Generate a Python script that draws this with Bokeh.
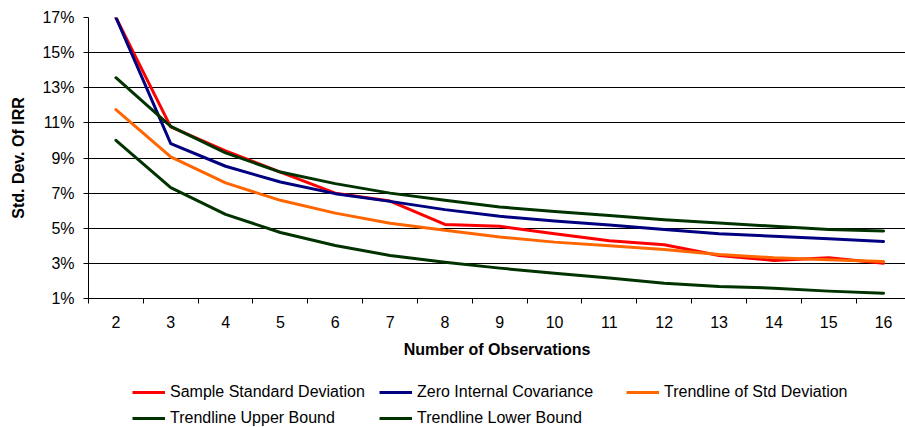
from bokeh.plotting import figure
from bokeh.layouts import column
from bokeh.models import Range1d, FixedTicker, Legend, LegendItem, ColumnDataSource
from bokeh.embed import file_html
from bokeh.resources import INLINE

# Number of observations (category axis)
observations = [2, 3, 4, 5, 6, 7, 8, 9, 10, 11, 12, 13, 14, 15, 16]

# Standard deviation of IRR, in percent
sample_std = [17.0, 10.77, 9.40, 8.20, 7.00, 6.55, 5.22, 5.11, 4.69, 4.29, 4.06, 3.45, 3.17, 3.32, 3.01]
zero_covariance = [17.0, 9.82, 8.53, 7.63, 6.97, 6.53, 6.06, 5.68, 5.41, 5.18, 4.93, 4.69, 4.54, 4.40, 4.25]
trend_std = [11.76, 9.06, 7.58, 6.59, 5.86, 5.29, 4.88, 4.50, 4.21, 4.00, 3.79, 3.51, 3.32, 3.21, 3.11]
trend_upper = [13.57, 10.80, 9.29, 8.20, 7.54, 7.00, 6.59, 6.21, 5.96, 5.73, 5.49, 5.30, 5.11, 4.93, 4.84]
trend_lower = [10.01, 7.31, 5.79, 4.76, 4.02, 3.45, 3.07, 2.73, 2.44, 2.17, 1.87, 1.68, 1.59, 1.42, 1.30]

# Y axis ticks and labels
y_ticks = [1, 3, 5, 7, 9, 11, 13, 15, 17]
y_tick_labels = ["1%", "3%", "5%", "7%", "9%", "11%", "13%", "15%", "17%"]

series_names = [
    "Sample Standard Deviation",
    "Zero Internal Covariance",
    "Trendline of Std Deviation",
    "Trendline Upper Bound",
    "Trendline Lower Bound",
]
series_values = [sample_std, zero_covariance, trend_std, trend_upper, trend_lower]
series_colors = ["#FF0000", "#000080", "#FF6600", "#003300", "#003300"]

FONT = "Liberation Sans"

p = figure(
    width=905, height=370,
    output_backend="svg", toolbar_location=None,
    x_range=Range1d(1.5, 16.40), y_range=Range1d(1, 17),
    min_border_left=88, min_border_right=0, min_border_top=17, min_border_bottom=72,
)
p.outline_line_color = None
p.background_fill_color = "white"
p.border_fill_color = "white"

# Horizontal gridlines only
p.xgrid.visible = False
p.ygrid.grid_line_color = "#000000"
p.ygrid.grid_line_width = 1

# X axis: labels at category centres, tick marks between categories
xa = p.xaxis[0]
xa.ticker = FixedTicker(ticks=observations,
                        minor_ticks=[v - 0.5 for v in observations])
xa.major_tick_in = 0
xa.major_tick_out = 0
xa.minor_tick_in = 0
xa.minor_tick_out = 5
xa.minor_tick_line_color = "#000000"
xa.axis_line_color = "#000000"
xa.major_label_text_font = FONT
xa.major_label_text_font_size = "16px"
xa.major_label_text_color = "#000000"
xa.major_label_standoff = 12
xa.axis_label = "Number of Observations"
xa.axis_label_text_font = FONT
xa.axis_label_text_font_size = "16px"
xa.axis_label_text_font_style = "bold"
xa.axis_label_text_color = "#000000"
xa.axis_label_standoff = 10

# Y axis
ya = p.yaxis[0]
ya.ticker = FixedTicker(ticks=y_ticks)
ya.major_label_overrides = {t: lab for t, lab in zip(y_ticks, y_tick_labels)}
ya.minor_tick_line_color = None
ya.major_tick_in = 0
ya.major_tick_out = 5
ya.major_tick_line_color = "#000000"
ya.axis_line_color = "#000000"
ya.major_label_text_font = FONT
ya.major_label_text_font_size = "16px"
ya.major_label_text_color = "#000000"
ya.major_label_standoff = 9
ya.axis_label = "Std. Dev. Of IRR"
ya.axis_label_text_font = FONT
ya.axis_label_text_font_size = "16px"
ya.axis_label_text_font_style = "bold"
ya.axis_label_text_color = "#000000"
ya.axis_label_standoff = 12

for vals, color in zip(series_values, series_colors):
    src = ColumnDataSource(data=dict(x=observations, y=vals))
    p.line("x", "y", source=src, line_color=color, line_width=3,
           line_join="round", line_cap="round")

# Legend strip underneath the chart (its frame is aligned with the chart's frame)
leg = figure(
    width=905, height=57,
    output_backend="svg", toolbar_location=None,
    x_range=Range1d(0, 1), y_range=Range1d(0, 1),
    min_border_left=0, min_border_right=0, min_border_top=0, min_border_bottom=0,
)
leg.outline_line_color = None
leg.axis.visible = False
leg.grid.visible = False
leg.background_fill_color = "white"
leg.border_fill_color = "white"

items = []
for name, color in zip(series_names, series_colors):
    # key-only renderer: a point placed outside the visible range
    r = leg.line(x=[-5, -5], y=[-5, -5], line_color=color, line_width=3)
    items.append(LegendItem(label=name, renderers=[r]))

legend = Legend(
    items=items,
    orientation="horizontal",
    ncols=3,
    location=(44, -2),
    glyph_width=33, glyph_height=22,
    label_standoff=5, label_width=205, label_height=22,
    spacing=4, padding=0, margin=0,
    border_line_color=None, background_fill_alpha=0,
    label_text_font=FONT, label_text_font_size="16px", label_text_color="#000000",
)
leg.add_layout(legend, "center")

layout = column(p, leg, spacing=0)
open("out.html", "w").write(file_html(layout, INLINE))
